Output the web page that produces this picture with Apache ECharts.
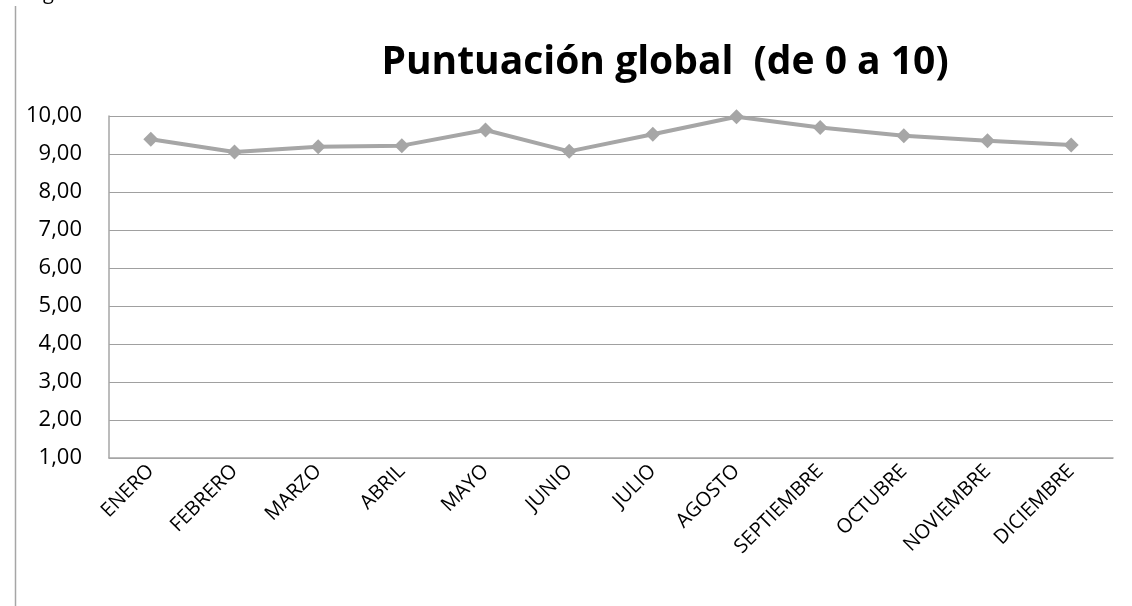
<!DOCTYPE html>
<html>
<head>
<meta charset="utf-8">
<script src="https://cdn.jsdelivr.net/npm/echarts@6/dist/echarts.min.js"></script>
<style>
  html, body { margin: 0; padding: 0; background: #fff; }
  #chart { width: 1132px; height: 606px; }
</style>
</head>
<body>
<div id="chart"></div>
<script>
const months = ['ENERO', 'FEBRERO', 'MARZO', 'ABRIL', 'MAYO', 'JUNIO', 'JULIO', 'AGOSTO', 'SEPTIEMBRE', 'OCTUBRE', 'NOVIEMBRE', 'DICIEMBRE']
const scores = [9.39, 9.05, 9.19, 9.22, 9.63, 9.07, 9.52, 9.98, 9.70, 9.48, 9.35, 9.24]
const titleText = 'Puntuación global  (de 0 a 10)'

const chart = echarts.init(document.getElementById('chart'))

const option = {
  animation: false,
  title: {
    text: titleText,
    left: 660,
    top: 38,
    textAlign: 'center',
    textStyle: {
      fontFamily: 'Open Sans',
      fontWeight: 'bold',
      fontSize: 39,
      color: '#000'
    }
  },
  graphic: [{
    // borde izquierdo cortado
    type: 'line',
    shape: { x1: 15.5, y1: 6, x2: 15.5, y2: 606 },
    style: { stroke: '#a6a6a6', lineWidth: 1.5 }
  }, {
    // resto de texto cortado arriba
    type: 'text',
    x: 43,
    y: -17,
    style: { text: 'g', fontFamily: 'Open Sans', fontSize: 20, fill: '#000' }
  }],
  grid: {
    left: 109,
    right: 19,
    top: 116,
    bottom: 148
  },
  xAxis: {
    type: 'category',
    data: months,
    boundaryGap: true,
    axisTick: { show: false },
    axisLine: { lineStyle: { color: '#a6a6a6', width: 1.5 } },
    axisLabel: {
      rotate: 45,
      margin: 10,
      interval: 0,
      color: '#000',
      fontFamily: 'Open Sans',
      fontSize: 20
    }
  },
  yAxis: {
    type: 'value',
    min: 1,
    max: 10,
    interval: 1,
    axisTick: { show: false },
    axisLine: { show: true, lineStyle: { color: '#a6a6a6', width: 1.5 } },
    splitLine: { lineStyle: { color: '#a0a0a0', width: 1.2 } },
    axisLabel: {
      margin: 27,
      color: '#000',
      fontFamily: 'Open Sans',
      fontSize: 22,
      formatter: v => v.toFixed(2).replace('.', ',')
    }
  },
  series: [{
    type: 'line',
    data: scores,
    symbol: 'diamond',
    symbolSize: 15,
    lineStyle: { color: '#a6a6a6', width: 4 },
    itemStyle: { color: '#a6a6a6' }
  }]
}

chart.setOption(option)
</script>
</body>
</html>
